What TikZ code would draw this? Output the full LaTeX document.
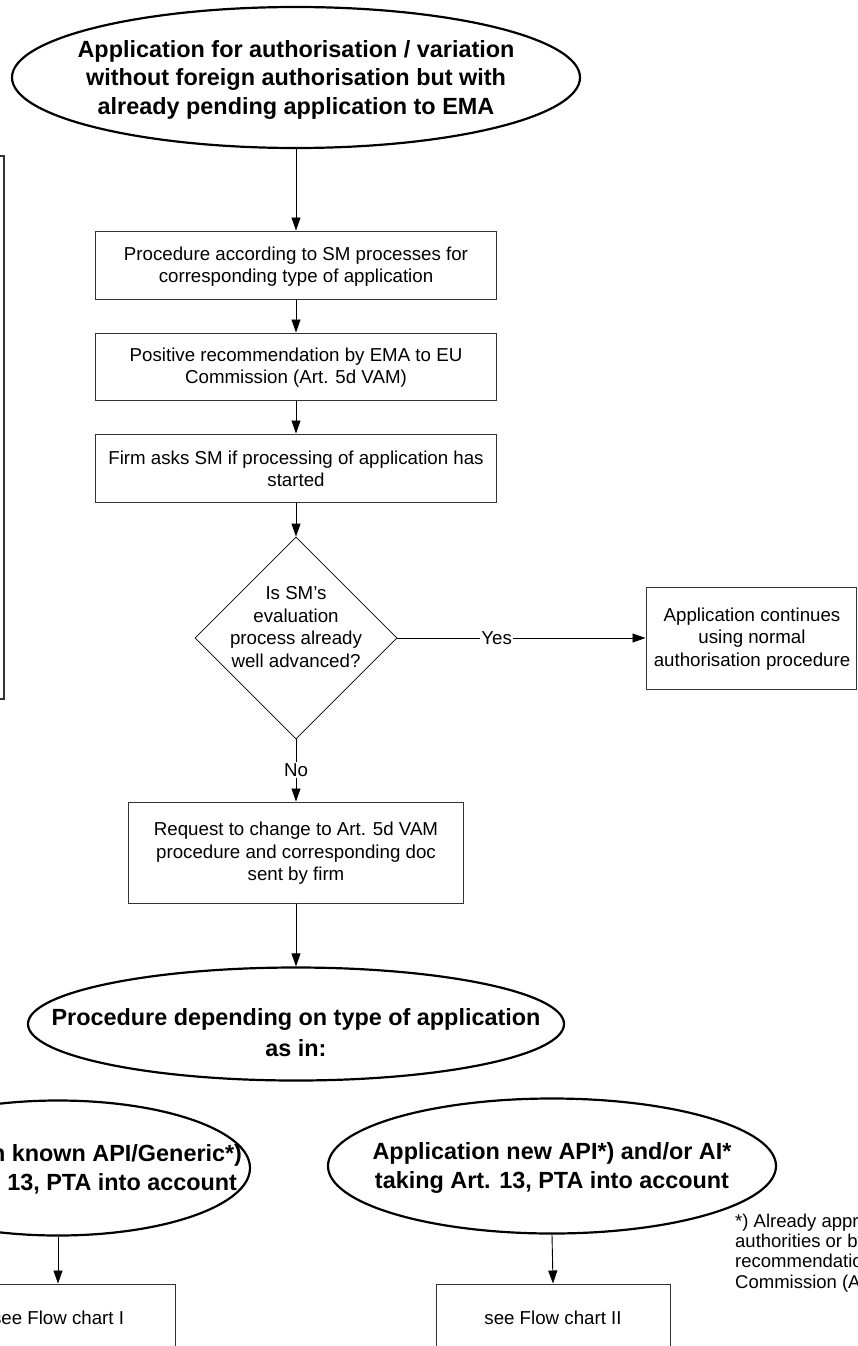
\documentclass[tikz,border=0pt]{standalone}
\usepackage{fontspec}
\setmainfont{Liberation Sans}
\usetikzlibrary{arrows.meta,shapes.geometric}
\begin{document}
\begin{tikzpicture}[x=1pt,y=-1pt,
  arr/.style={draw=black, line width=0.9pt, -{Triangle[length=13pt,width=9pt]}},
  boxn/.style={draw=black!80, line width=1pt, rectangle, inner sep=0pt},
  btext/.style={align=center, inner sep=0pt, font=\fontsize{18.7}{22.5}\selectfont},
  ell/.style={draw=black, line width=2.2pt, ellipse, inner sep=0pt},
  etext/.style={align=center, inner sep=0pt, font=\bfseries\fontsize{23.4}{28.5}\selectfont},
  lbl/.style={fill=white, inner sep=1.5pt, font=\fontsize{18.7}{22.5}\selectfont},
  dia/.style={draw=black, line width=0.8pt, diamond, inner sep=0pt, aspect=1}]
\path[use as bounding box] (0,0) rectangle (857,1346);
\clip (0,0) rectangle (857,1346);

% left partial box
\node[boxn, line width=1.3pt, minimum width=60pt, minimum height=543pt] (leftbox) at (-26,427.5) {};

% top ellipse
\node[ell, minimum width=568pt, minimum height=141pt] (e1) at (296,77.5) {};
\node[etext] (e1t) at (296,80) {Application for authorisation / variation\\without foreign authorisation but with\\already pending application to EMA};

% boxes
\node[boxn, minimum width=401pt, minimum height=68pt] (b1) at (296,265) {};
\node[btext] (b1t) at (296,266.5) {Procedure according to SM processes for\\corresponding type of application};

\node[boxn, minimum width=401pt, minimum height=67pt] (b2) at (296,366.5) {};
\node[btext] (b2t) at (296,367.5) {Positive recommendation by EMA to EU\\Commission (Art. 5d VAM)};

\node[boxn, minimum width=401pt, minimum height=68pt] (b3) at (296,468) {};
\node[btext] (b3t) at (296,469) {Firm asks SM if processing of application has\\started};

% decision
\node[dia, minimum width=202pt, minimum height=202pt] (d) at (296,638) {};
\node[btext] (dt) at (296,627) {Is SM’s\\evaluation\\process already\\well advanced?};

% right box
\node[boxn, minimum width=210pt, minimum height=102pt] (rb) at (751,638) {};
\node[btext] (rbt) at (752,639) {Application continues\\using normal\\authorisation procedure};

% box 4
\node[boxn, minimum width=335pt, minimum height=101pt] (b4) at (296,852.5) {};
\node[btext] (b4t) at (296,853.5) {Request to change to Art. 5d VAM\\procedure and corresponding doc\\sent by firm};

% middle ellipse
\node[ell, minimum width=536pt, minimum height=113pt] (e2) at (296,1024) {};
\node[etext, font=\bfseries\fontsize{23.4}{31}\selectfont] (e2t) at (296,1033) {Procedure depending on type of application\\as in:};

% bottom ellipses
\node[ell, minimum width=384pt, minimum height=135pt] (e3) at (58,1168) {};
\node[etext] (e3t) at (60,1170) {Application known API/Generic*)\\taking Art. 13, PTA into account};

\node[ell, minimum width=448pt, minimum height=135pt] (e4) at (552,1166) {};
\node[etext] (e4t) at (552,1168) {Application new API*) and/or AI*\\taking Art. 13, PTA into account};

% bottom boxes
\node[boxn, minimum width=234pt, minimum height=120pt] (f1) at (58,1344) {};
\node[btext] (f1t) at (58,1318) {see Flow chart I};
\node[boxn, minimum width=234pt, minimum height=120pt] (f2) at (553,1344) {};
\node[btext] (f2t) at (553,1318) {see Flow chart II};

% footnote
\node[anchor=west, align=left, inner sep=0pt, font=\fontsize{18.5}{20.3}\selectfont] (fn) at (735,1253) {*) Already approved by foreign\\authorities or by positive\\recommendation of the EU\\Commission (Art. 5d VAM)};

% connectors
\draw[arr] (e1.south) -- (b1.north);
\draw[arr] (b1.south) -- (b2.north);
\draw[arr] (b2.south) -- (b3.north);
\draw[arr] (b3.south) -- (d.north);
\draw[arr] (d.east) -- node[lbl, pos=0.4] {Yes} (rb.west);
\draw[arr] (d.south) -- node[lbl] {No} (b4.north);
\draw[arr] (b4.south) -- (e2.north);
\draw[arr] (e3.south) -- (f1.north);
\draw[arr] (e4.south) -- (f2.north);
\end{tikzpicture}
\end{document}
